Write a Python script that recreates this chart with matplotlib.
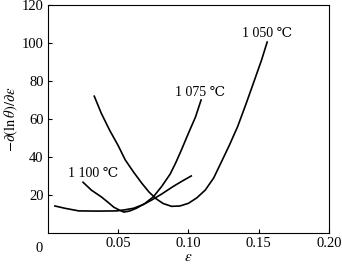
import numpy as np
import matplotlib.pyplot as plt

plt.rcParams['font.family'] = ['Liberation Serif', 'DejaVu Serif', 'Noto Sans CJK SC']
plt.rcParams['mathtext.fontset'] = 'stix'

# strain values and -d(ln theta)/d(eps)
eps_1050 = [0.033, 0.038, 0.044, 0.050, 0.055, 0.061, 0.067, 0.072, 0.077, 0.082, 0.088, 0.094,
            0.100, 0.106, 0.112, 0.118, 0.123, 0.129, 0.135, 0.141, 0.147, 0.152, 0.156]
val_1050 = [72, 63, 54, 46, 38.5, 32, 26, 21.5, 18, 15.5, 14, 14.2,
            15.6, 18.5, 22.6, 29, 36.7, 46, 56, 68, 80.5, 91, 100.5]

eps_1075 = [0.025, 0.031, 0.038, 0.043, 0.047, 0.051, 0.054, 0.058, 0.063, 0.069, 0.075,
            0.081, 0.087, 0.091, 0.095, 0.100, 0.105, 0.109]
val_1075 = [26.7, 22.5, 19, 16, 13.5, 12, 11, 11.5, 13, 15.5, 19,
            24.5, 31, 37, 43.7, 52.5, 61, 70]

eps_1100 = [0.005, 0.012, 0.022, 0.035, 0.049, 0.055, 0.061, 0.068, 0.074, 0.081, 0.089, 0.096, 0.102]
val_1100 = [14.2, 13, 11.6, 11.5, 11.6, 12.2, 13, 15, 17.4, 20.5, 24.4, 27.5, 30]

labels = ['1 050 ℃', '1 075 ℃', '1 100 ℃']
label_pos = [(0.1556, 105), (0.108, 74), (0.032, 31.5)]

fig = plt.figure(figsize=(3.42, 2.65), dpi=100)
ax = fig.add_axes([0.140, 0.121, 0.822, 0.860])

ax.plot(eps_1050, val_1050, color='black', lw=1.2)
ax.plot(eps_1075, val_1075, color='black', lw=1.2)
ax.plot(eps_1100, val_1100, color='black', lw=1.2)

for txt, (x, y) in zip(labels, label_pos):
    ax.text(x, y, txt, ha='center', va='center', fontsize=10)

ax.set_xlim(0, 0.20)
ax.set_ylim(0, 120)
ax.set_xticks([0.05, 0.10, 0.15, 0.20])
ax.set_xticklabels(['0.05', '0.10', '0.15', '0.20'])
ax.set_yticks([20, 40, 60, 80, 100, 120])
ax.tick_params(direction='in', labelsize=10.5, length=3, width=0.8, pad=3)
ax.text(-0.03, -0.04, '0', transform=ax.transAxes, ha='center', va='top', fontsize=10.5)

ax.set_xlabel(r'$\varepsilon$', fontsize=11, labelpad=1)
ax.set_ylabel(r'$-\partial(\ln\theta)/\partial\varepsilon$', fontsize=10.5, labelpad=1)

for s in ax.spines.values():
    s.set_linewidth(0.8)

plt.savefig('out.png', dpi=100)
